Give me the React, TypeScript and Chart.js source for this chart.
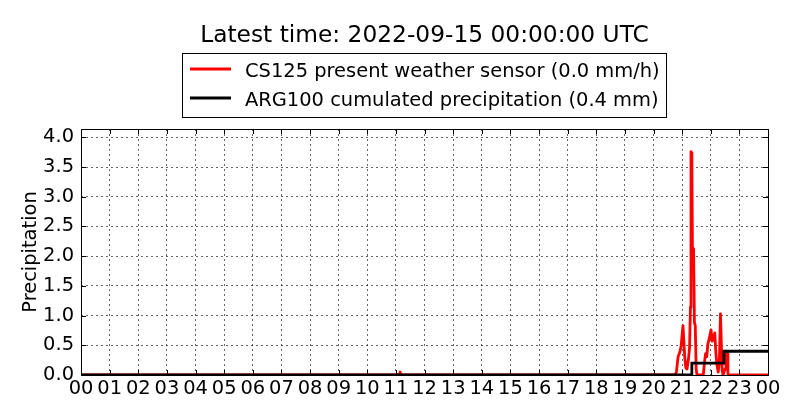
import React, { useEffect, useRef } from "react";
import { Chart, registerables } from "chart.js";

Chart.register(...registerables);

const TITLE = "Latest time: 2022-09-15 00:00:00 UTC";
const Y_LABEL = "Precipitation";
const HOUR_LABELS = [
  "00", "01", "02", "03", "04", "05", "06", "07", "08", "09", "10", "11",
  "12", "13", "14", "15", "16", "17", "18", "19", "20", "21", "22", "23", "00",
];
const Y_MAX = 4.14;

const CS125_LABEL = "CS125 present weather sensor (0.0 mm/h)";
const cs125Hours = [
  0, 11.12, 11.15, 11.18, 20.75, 20.8, 20.86, 20.91, 20.96, 20.99, 21.03, 21.06,
  21.09, 21.13, 21.17, 21.22, 21.26, 21.29, 21.31, 21.34, 21.36, 21.4, 21.43,
  21.46, 21.49, 21.52, 21.74, 21.78, 21.82, 21.86, 21.9, 21.95, 22.01, 22.05,
  22.09, 22.14, 22.18, 22.22, 22.26, 22.3, 22.34, 22.37, 22.4, 22.43, 22.5,
  22.53, 22.57, 22.6, 22.63, 24,
];
const cs125Values = [
  0, 0, 0.05, 0, 0, 0.05, 0.31, 0.37, 0.47, 0.62, 0.83, 0.57,
  0.31, 0.12, 0.1, 0.26, 0.47, 1.14, 3.76, 3.74, 2.15, 2.12, 0.88,
  0.83, 0.1, 0, 0, 0.21, 0.36, 0.31, 0.52, 0.62, 0.76, 0.57,
  0.62, 0.71, 0.36, 0.16, 0.05, 0.21, 1.03, 0.52, 0.07, 0, 0.1,
  0.4, 0.36, 0.02, 0, 0,
];

const ARG100_LABEL = "ARG100 cumulated precipitation (0.4 mm)";
const arg100Hours = [0, 21.34, 22.46, 24];
const arg100Values = [0, 0.2, 0.4, 0.4];

const FONT = "DejaVu Sans";
const FS = 19.44;
const LW = 2.8;

const decorPlugin = {
  id: "decor",
  afterDatasetsDraw(chart: any) {
    const { ctx, chartArea } = chart;
    const { left, right, top, bottom } = chartArea;
    const xs = chart.scales.x;
    const ys = chart.scales.y;
    ctx.save();
    ctx.strokeStyle = "#000";
    ctx.lineWidth = 1;
    ctx.beginPath();
    xs.ticks.forEach((t: any) => {
      const px = Math.round(xs.getPixelForValue(t.value)) + 0.5;
      ctx.moveTo(px, bottom);
      ctx.lineTo(px, bottom - 5);
      ctx.moveTo(px, top);
      ctx.lineTo(px, top + 5);
    });
    ys.ticks.forEach((t: any) => {
      const py = Math.round(ys.getPixelForValue(t.value)) + 0.5;
      ctx.moveTo(left, py);
      ctx.lineTo(left + 5, py);
      ctx.moveTo(right, py);
      ctx.lineTo(right - 5, py);
    });
    ctx.stroke();
    ctx.strokeRect(Math.round(left) + 0.5, Math.round(top) + 0.5, Math.round(right - left), Math.round(bottom - top));
    ctx.restore();
  },
  afterDraw(chart: any) {
    const { ctx, chartArea } = chart;
    ctx.save();
    ctx.fillStyle = "#000";
    ctx.font = `${FS * 1.2}px "${FONT}"`;
    ctx.textAlign = "center";
    ctx.textBaseline = "alphabetic";
    ctx.fillText(TITLE, (chartArea.left + chartArea.right) / 2, 42);
    ctx.font = `${FS}px "${FONT}"`;
    ctx.save();
    ctx.translate(36, (chartArea.top + chartArea.bottom) / 2);
    ctx.rotate(-Math.PI / 2);
    ctx.fillText(Y_LABEL, 0, 0);
    ctx.restore();
    const boxL = 182.5, boxT = 53.5, boxW = 484, boxH = 64;
    ctx.strokeStyle = "#000";
    ctx.lineWidth = 1;
    ctx.strokeRect(boxL, boxT, boxW, boxH);
    const rows = [69, 98];
    ctx.textAlign = "left";
    chart.data.datasets.forEach((ds: any, i: number) => {
      const y = rows[i];
      ctx.strokeStyle = ds.borderColor;
      ctx.lineWidth = LW;
      ctx.beginPath();
      ctx.moveTo(190, y);
      ctx.lineTo(231, y);
      ctx.stroke();
      ctx.fillStyle = "#000";
      ctx.fillText(ds.label, 245, y + 7.5);
    });
    ctx.restore();
  },
};

export default function App() {
  const ref = useRef<HTMLCanvasElement>(null);
  useEffect(() => {
    document.body.style.margin = "0";
    const canvas = ref.current;
    if (!canvas) return;
    const chart = new Chart(canvas, {
      type: "line",
      data: {
        datasets: [
          {
            label: CS125_LABEL,
            data: cs125Hours.map((h, i) => ({ x: h, y: cs125Values[i] })),
            borderColor: "#ff0000",
            backgroundColor: "#ff0000",
            borderWidth: LW,
            borderJoinStyle: "round",
            pointRadius: 0,
            tension: 0,
            fill: false,
            clip: 0,
            order: 1,
          },
          {
            label: ARG100_LABEL,
            data: arg100Hours.map((h, i) => ({ x: h, y: arg100Values[i] })),
            borderColor: "#000000",
            backgroundColor: "#000000",
            borderWidth: LW,
            pointRadius: 0,
            stepped: "before",
            fill: false,
            clip: 0,
            order: 0,
          },
        ],
      },
      options: {
        responsive: false,
        animation: false,
        devicePixelRatio: 1,
        layout: { padding: { top: 129, right: 32, left: 0, bottom: 0 } },
        plugins: {
          legend: { display: false },
          title: { display: false },
          tooltip: { enabled: false },
        },
        scales: {
          x: {
            type: "linear",
            min: 0,
            max: 24,
            afterFit: (s: any) => {
              s.height = 45;
            },
            ticks: {
              stepSize: 1,
              autoSkip: false,
              maxRotation: 0,
              padding: 2,
              color: "#000",
              font: { family: FONT, size: FS },
              callback: (v: any) => HOUR_LABELS[Math.round(Number(v))],
            },
            grid: { color: "rgba(0,0,0,0.6)", lineWidth: 1, drawTicks: false },
            border: { display: false, dash: [2, 3] },
          },
          y: {
            type: "linear",
            min: 0,
            max: Y_MAX,
            afterFit: (s: any) => {
              s.width = 81;
            },
            ticks: {
              stepSize: 0.5,
              includeBounds: false,
              padding: 7,
              color: "#000",
              font: { family: FONT, size: FS },
              callback: (v: any) => Number(v).toFixed(1),
            },
            grid: { color: "rgba(0,0,0,0.6)", lineWidth: 1, drawTicks: false },
            border: { display: false, dash: [2, 3] },
          },
        },
      },
      plugins: [decorPlugin],
    });
    return () => chart.destroy();
  }, []);
  return <canvas ref={ref} width={800} height={420} style={{ display: "block" }} />;
}
